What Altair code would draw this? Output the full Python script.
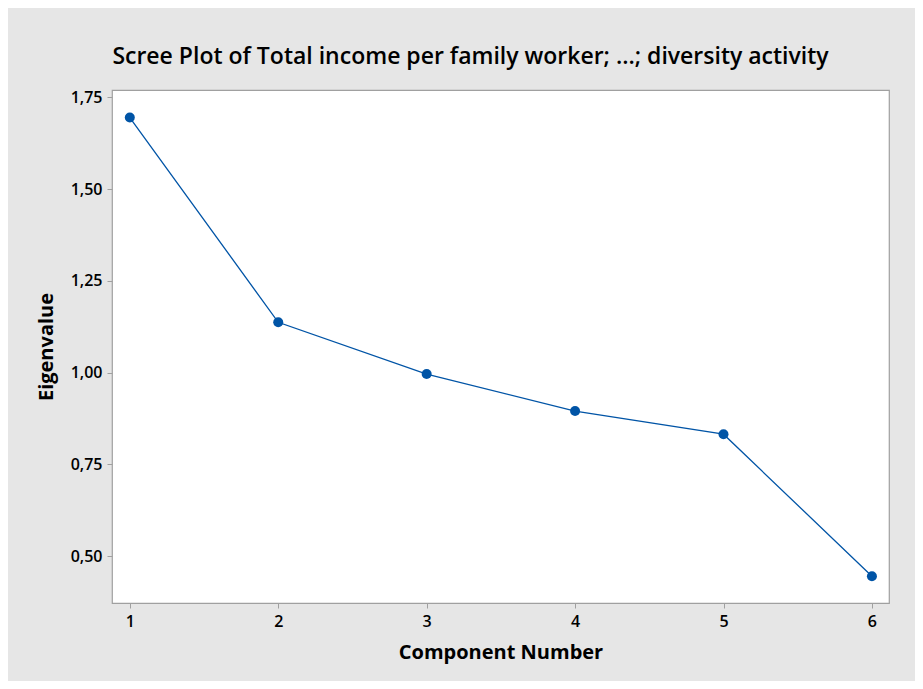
import altair as alt
import pandas as pd

components = [1, 2, 3, 4, 5, 6]
eigenvalues = [1.695, 1.137, 0.996, 0.895, 0.832, 0.445]
x_ticks = [1, 2, 3, 4, 5, 6]
y_ticks = [0.50, 0.75, 1.00, 1.25, 1.50, 1.75]

df = pd.DataFrame({"Component": components, "Eigenvalue": eigenvalues})

FONT = "Open Sans"
BLUE = "#0054a6"

x = alt.X(
    "Component:Q",
    scale=alt.Scale(domain=[0.88, 6.115], nice=False, zero=False),
    axis=alt.Axis(
        values=x_ticks, format="d", title="Component Number",
        titleY=49, titleBaseline="middle",
    ),
)
y = alt.Y(
    "Eigenvalue:Q",
    scale=alt.Scale(domain=[0.372, 1.77], nice=False, zero=False),
    axis=alt.Axis(
        values=y_ticks, title="Eigenvalue",
        labelExpr="replace(format(datum.value, '.2f'), '.', ',')",
        titleX=-66, titleBaseline="middle",
    ),
)

line = alt.Chart(df).mark_line(color=BLUE, strokeWidth=1.3).encode(x=x, y=y)
pts = alt.Chart(df).mark_point(filled=True, color=BLUE, size=100, opacity=1).encode(x=x, y=y)

chart = (
    alt.layer(line, pts)
    .properties(
        width=777,
        height=513,
        title=alt.TitleParams(
            "Scree Plot of Total income per family worker; ...; diversity activity",
            anchor="middle", dx=-30, offset=20, fontSize=23, font=FONT,
            fontWeight=600, color="#000000",
        ),
        autosize=alt.AutoSizeParams(type="none"),
        padding={"left": 104, "top": 82, "right": 26, "bottom": 78},
        background="#e6e6e6",
    )
    .configure_view(stroke="#a0a0a0", strokeWidth=1.2, fill="#ffffff")
    .configure_axis(
        grid=False, domain=False, tickColor="#a0a0a0", tickSize=5,
        labelFont=FONT, labelFontSize=16, labelColor="#000000", labelFontWeight=600,
        titleFont=FONT, titleFontSize=20, titleFontWeight="bold", titleColor="#000000",
        labelPadding=5,
    )
)

chart.save("out.html", embed_options={"renderer": "svg", "actions": False})
